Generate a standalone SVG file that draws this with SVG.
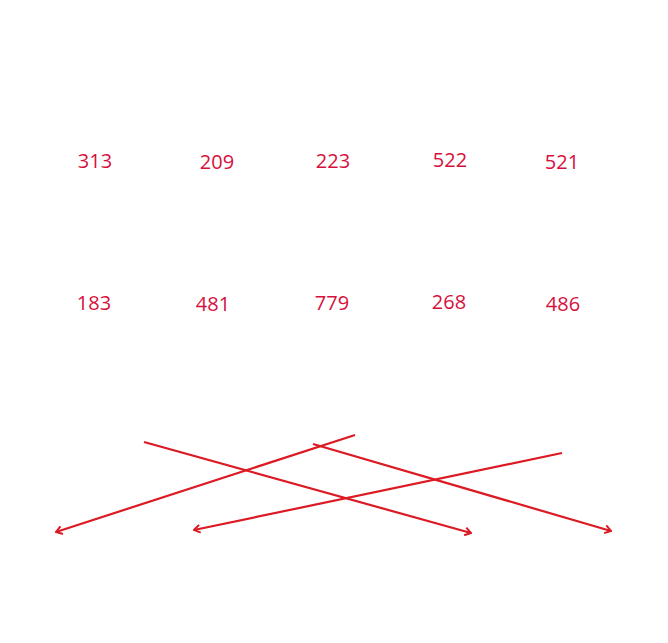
<svg xmlns="http://www.w3.org/2000/svg" width="668" height="643" viewBox="0 0 668 643">
<style>
.t{font-family:"Open Sans","Noto Sans",sans-serif;font-size:20px;fill:#d6103c;text-anchor:middle}
.c{stroke:#dc1a24;stroke-width:2.2;fill:none;marker-end:url(#ah)}
</style>
<defs>
<marker id="ah" viewBox="0 0 10 10" refX="9" refY="5" markerWidth="10" markerHeight="10" markerUnits="userSpaceOnUse" orient="auto">
<path d="M3,1 L9,5 L3,9" fill="none" stroke="#dc1a24" stroke-width="2"/>
</marker>
</defs>
<rect width="668" height="643" fill="#fff"/>
<g id="n313"><text class="t" x="95" y="168">313</text></g>
<g id="n209"><text class="t" x="217" y="169">209</text></g>
<g id="n223"><text class="t" x="333" y="168">223</text></g>
<g id="n522"><text class="t" x="450" y="167">522</text></g>
<g id="n521"><text class="t" x="562" y="169">521</text></g>
<g id="n183"><text class="t" x="94" y="310">183</text></g>
<g id="n481"><text class="t" x="213" y="311">481</text></g>
<g id="n779"><text class="t" x="332" y="310">779</text></g>
<g id="n268"><text class="t" x="449" y="309">268</text></g>
<g id="n486"><text class="t" x="563" y="311">486</text></g>
<g id="connectors">
<line class="c" x1="144" y1="442" x2="471" y2="533"/>
<line class="c" x1="355" y1="435" x2="56" y2="532"/>
<line class="c" x1="313" y1="444" x2="611" y2="531"/>
<line class="c" x1="562" y1="453" x2="194" y2="530"/>
</g>
</svg>
